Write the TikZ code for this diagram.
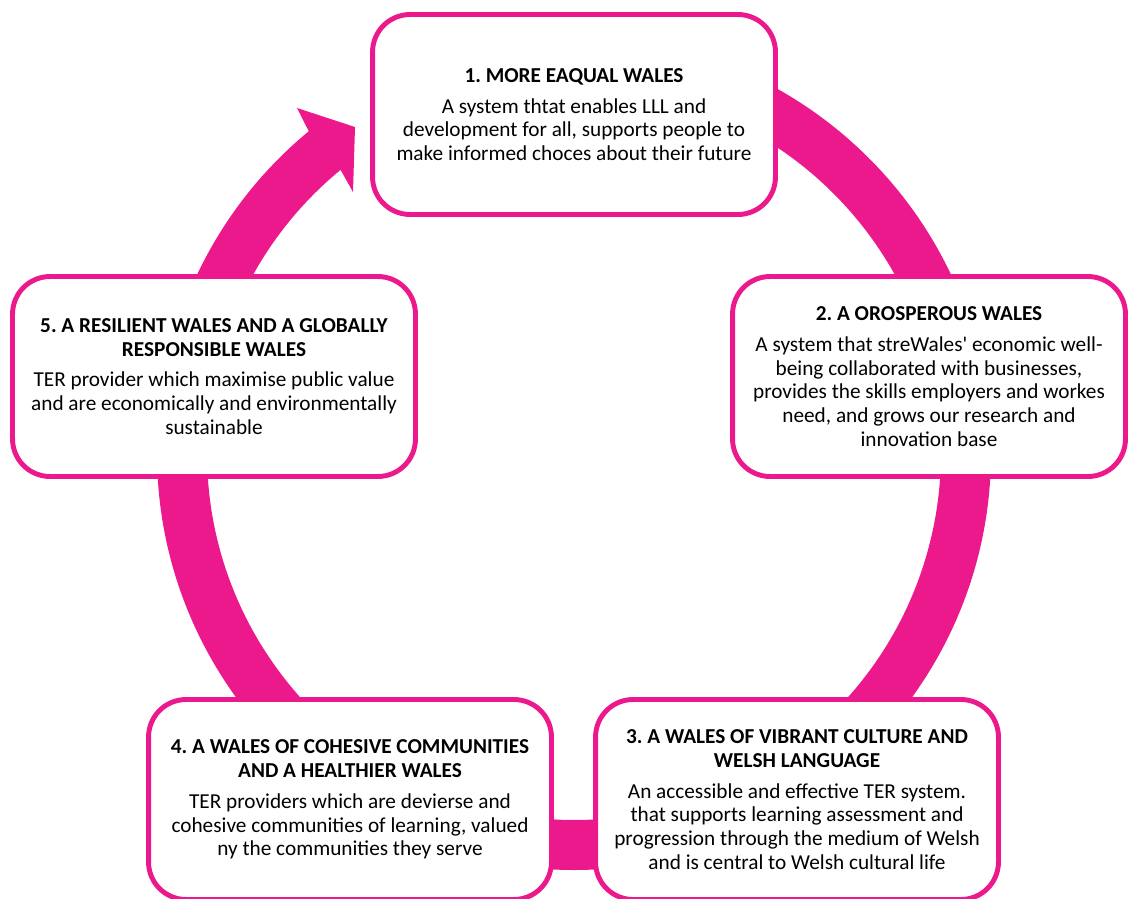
\documentclass[tikz,border=0pt]{standalone}
\usepackage{fontspec}
\setmainfont{Carlito}
\usetikzlibrary{calc}
\definecolor{wpink}{HTML}{EC198D}
\frenchspacing

\begin{document}
\begin{tikzpicture}[x=0.02cm,y=-0.02cm]
  \tikzset{stage/.style={draw=wpink, line width=2.8pt, fill=white,
      rounded corners=0.75cm, minimum width=8.06cm, minimum height=4cm,
      align=center, font=\fontsize{12.1}{13.5}\selectfont},
    ring/.style={fill=wpink}}
  \useasboundingbox (0,0) rectangle (1129,899);
  \clip (0,0) rectangle (1129,899);
  \coordinate (hub) at (574,453);
  % cycle arrow behind the boxes
  \fill[ring] ($(hub)+(-90:417)$) arc[start angle=-90, end angle=230.5, radius=417]
    -- (297,108) -- (355,127) -- (353,192)
    -- ($(hub)+(230.5:367)$) arc[start angle=230.5, end angle=-90, radius=367] -- cycle;
  % the five goals
  \node[stage] (s1) at (574,114.5) {\textbf{1. MORE EAQUAL WALES}\\[4pt]
    A system thtat enables LLL and\\ development for all, supports people to\\
    make informed choces about their future};
  \node[stage, minimum width=7.86cm] (s2) at (929,376.5) {\textbf{2. A OROSPEROUS WALES}\\[4pt]
    A system that streWales\textquotesingle{} economic well-\\ being collaborated with businesses,\\
    provides the skills employers and workes\\ need, and grows our research and\\ innovation base};
  \node[stage] (s3) at (797,799.5) {\textbf{3. A WALES OF VIBRANT CULTURE AND}\\ \textbf{WELSH LANGUAGE}\\[4pt]
    An accessible and effective TER system.\\ that supports learning assessment and\\
    progression through the medium of Welsh\\ and is central to Welsh cultural life};
  \node[stage] (s4) at (350,799.5) {\textbf{4. A WALES OF COHESIVE COMMUNITIES}\\ \textbf{AND A HEALTHIER WALES}\\[4pt]
    TER providers which are devierse and\\ cohesive communities of learning, valued\\
    ny the communities they serve};
  \node[stage] (s5) at (214,376.5) {\textbf{5. A RESILIENT WALES AND A GLOBALLY}\\ \textbf{RESPONSIBLE WALES}\\[4pt]
    TER provider which maximise public value\\ and are economically and environmentally\\
    sustainable};
\end{tikzpicture}
\end{document}
